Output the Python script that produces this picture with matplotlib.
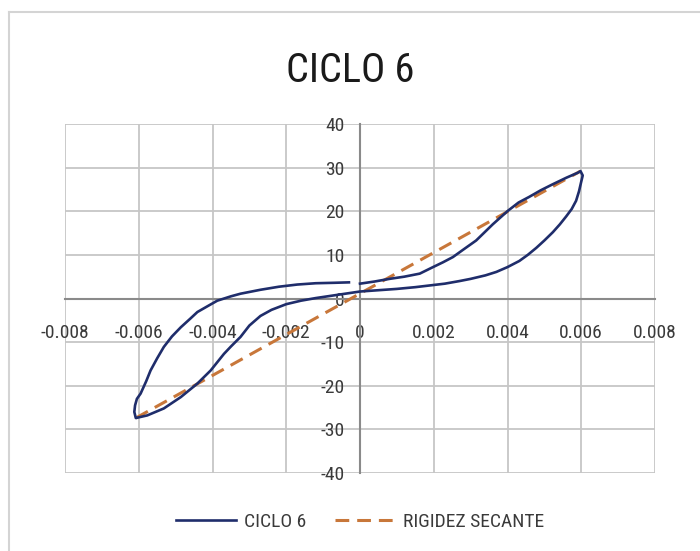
import matplotlib
matplotlib.use('Agg')
import matplotlib.pyplot as plt
from matplotlib import font_manager
from matplotlib.lines import Line2D

# narrow sans if one is around (the original uses Calibri)
installed = {f.name for f in font_manager.fontManager.ttflist}
narrow = [n for n in ['Liberation Sans Narrow', 'Roboto Condensed', 'DejaVu Sans Condensed',
                      'Open Sans Condensed', 'Noto Sans Condensed'] if n in installed]
plt.rcParams['font.family'] = narrow + ['Roboto', 'DejaVu Sans']
plt.rcParams['font.stretch'] = 'condensed'

# hysteresis loop (deformation, load)
ciclo_x = [0.0000, 0.0004, 0.0008, 0.0012, 0.00162, 0.00198, 0.00225, 0.00252, 0.0028,
           0.00315, 0.0036, 0.00401, 0.0043, 0.00459, 0.0049, 0.00523, 0.0056, 0.0059,
           0.00598,
           0.00604, 0.0060, 0.00594, 0.00586, 0.00574, 0.00559, 0.00542, 0.00523, 0.0050,
           0.00478, 0.00455, 0.00432, 0.0040, 0.0037, 0.0034, 0.0030, 0.0027, 0.0023,
           0.0020, 0.0015, 0.0010, 0.0005, 0.0000,
           -0.0004, -0.0008, -0.0012, -0.0016, -0.0020, -0.0024, -0.0027, -0.0030,
           -0.00324, -0.0035, -0.00369, -0.00405, -0.00441, -0.00486, -0.00532,
           -0.00577, -0.00608,
           -0.00612, -0.0061, -0.00605, -0.00595, -0.0058, -0.00568, -0.0055, -0.00532,
           -0.0051, -0.00486, -0.0046, -0.00441, -0.0041, -0.00387, -0.0035, -0.00324,
           -0.0027, -0.0022, -0.0017, -0.0012, -0.0007, -0.0003]
ciclo_y = [3.4, 3.9, 4.5, 5.0, 5.7, 7.2, 8.3, 9.5, 11.2,
           13.3, 17.0, 20.1, 22.0, 23.3, 24.8, 26.2, 27.7, 28.8,
           29.2,
           28.2, 26.8, 24.6, 22.4, 20.5, 18.8, 17.0, 15.2, 13.3,
           11.6, 10.0, 8.6, 7.2, 6.1, 5.3, 4.5, 4.0, 3.4,
           3.1, 2.6, 2.2, 1.9, 1.6,
           1.1, 0.6, 0.1, -0.5, -1.3, -2.6, -4.0, -6.2,
           -8.8, -11.0, -12.7, -16.5, -19.5, -22.6, -25.2,
           -26.8, -27.4,
           -26.0, -24.5, -23.0, -21.8, -19.0, -16.5, -13.7, -11.1,
           -8.7, -6.6, -4.6, -3.1, -1.6, -0.5, 0.5, 1.1,
           2.0, 2.7, 3.2, 3.5, 3.6, 3.7]

# secant stiffness line between the two peaks
secante_x = [-0.00608, 0.00598]
secante_y = [-27.4, 29.2]

x_ticks = [-0.008, -0.006, -0.004, -0.002, 0, 0.002, 0.004, 0.006, 0.008]
x_labels = ['-0.008', '-0.006', '-0.004', '-0.002', '0', '0.002', '0.004', '0.006', '0.008']
y_ticks = [-40, -30, -20, -10, 0, 10, 20, 30, 40]
y_labels = ['-40', '-30', '-20', '-10', '0', '10', '20', '30', '40']

W, H = 700, 551
fig = plt.figure(figsize=(7, 5.51), dpi=100)
ax = fig.add_axes([65 / W, 1 - 473 / H, 590 / W, 349 / H])

ax.plot(ciclo_x, ciclo_y, color='#1F2D6B', lw=1.9, zorder=4, label='CICLO 6')
ax.plot(secante_x, secante_y, color='#C8773A', lw=2.2, ls=(0, (4.5, 2.6)), zorder=3,
        label='RIGIDEZ SECANTE')

ax.set_xlim(-0.008, 0.008)
ax.set_ylim(-40, 40)
ax.set_xticks(x_ticks)
ax.set_xticklabels(x_labels)
ax.set_yticks(y_ticks)
ax.set_yticklabels(y_labels)

ax.grid(True, color='#C6C6C6', lw=1.3)
ax.set_axisbelow(True)
for side in ['top', 'right']:
    ax.spines[side].set_visible(False)
for side in ['left', 'bottom']:
    ax.spines[side].set_position(('data', 0))
    ax.spines[side].set_color('#8A8A8A')
    ax.spines[side].set_linewidth(1.5)
    ax.spines[side].set_zorder(2.5)

fs_tick = 14 if narrow else 12.5
ax.tick_params(axis='x', length=0, pad=18, labelsize=fs_tick, labelcolor='#3a3a3a')
ax.tick_params(axis='y', length=0, pad=11, labelsize=fs_tick, labelcolor='#3a3a3a')

fig.text(0.5, 1 - 70 / H, 'CICLO 6', ha='center', va='center',
         fontsize=29 if narrow else 25, color='#1a1a1a')

ax.legend(loc='center', bbox_to_anchor=(360 / W, 1 - 522 / H), bbox_transform=fig.transFigure,
          ncol=2, frameon=False, fontsize=fs_tick, handlelength=3.1, handletextpad=0.4,
          columnspacing=1.5, labelcolor='#3a3a3a')

# chart border (only top and left edges are visible in the crop)
fig.add_artist(Line2D([8.5 / W, 8.5 / W], [0, 1 - 12 / H], color='#D4D4D4', lw=1.5))
fig.add_artist(Line2D([8.5 / W, 1], [1 - 12 / H, 1 - 12 / H], color='#D4D4D4', lw=1.5))

fig.savefig('out.png', dpi=100, facecolor='white')
